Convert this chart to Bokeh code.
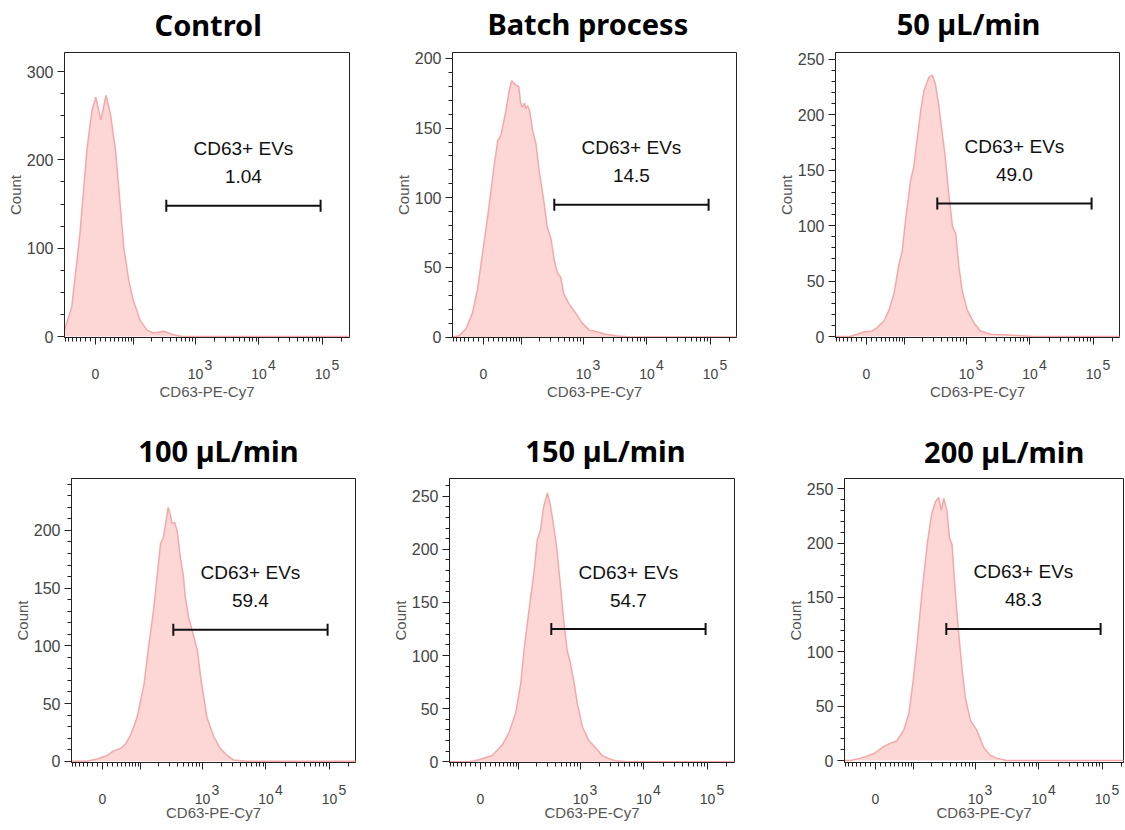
import math
from bokeh.plotting import figure
from bokeh.models import Range1d, FixedTicker, SingleIntervalTicker, LinearAxis
from bokeh.layouts import column, row
from bokeh.embed import file_html
from bokeh.resources import INLINE
from bokeh.core.properties import value

# ---------------- data ----------------
titles = ["Control", "Batch process", "50 \u00b5L/min", "100 \u00b5L/min", "150 \u00b5L/min", "200 \u00b5L/min"]
gate_pct = ["1.04", "14.5", "49.0", "59.4", "54.7", "48.3"]
gate_text = "CD63+ EVs"
gate_lo = 2.54          # gate start, display units (logicle-like scale: 10^3 -> 3)
gate_hi = 4.97          # gate end
gate_count = [148, 95, 120, 114, 125, 121]
y_tick_step = [100, 50, 50, 50, 50, 50]
y_lims = [(-1.1, 321.6), (-0.3, 204.3), (-0.9, 256.3), (-1.1, 245.0), (-0.6, 266.6), (-1.8, 259.4)]
x_label = "CD63-PE-Cy7"
y_label = "Count"
x_major_values = [0, 100, 1e3, 1e4, 1e5]
x_major_labels = ["0", "", "10", "10", "10"]
x_exp_values = [1e3, 1e4, 1e5]
x_exp_labels = ["3", "4", "5"]
x_minor_values = [-70, -60, -50, -40, -30, -20, -10, 10, 20, 30, 40, 50, 60, 70, 80, 90,
                  200, 300, 400, 500, 600, 700, 800, 900,
                  2e3, 3e3, 4e3, 5e3, 6e3, 7e3, 8e3, 9e3,
                  2e4, 3e4, 4e4, 5e4, 6e4, 7e4, 8e4, 9e4, 2e5]

# histograms: x in display units, y = event count
control_x = [0.94, 1.05, 1.18, 1.29, 1.37, 1.43, 1.51, 1.59, 1.66, 1.74, 1.79, 1.87, 1.95, 2.02,
             2.13, 2.24, 2.34, 2.50, 2.65, 2.79, 5.43]
control_y = [8, 33, 116, 211, 256, 271, 245, 273, 252, 211, 169, 101, 63, 41, 18, 7, 4, 6, 2, 0, 0]

batch_x = [0.94, 1.04, 1.15, 1.25, 1.33, 1.41, 1.51, 1.59, 1.65, 1.70, 1.78, 1.83, 1.87, 1.93, 1.98,
           2.01, 2.04, 2.07, 2.09, 2.12, 2.15, 2.20, 2.25, 2.30, 2.38, 2.43, 2.49, 2.54, 2.59, 2.64,
           2.69, 2.77, 2.88, 2.98, 3.09, 3.19, 3.35, 3.51, 3.72, 5.43]
batch_y = [0, 1, 6, 17, 34, 60, 93, 122, 141, 145, 163, 177, 184, 181, 180, 168, 165, 168, 164, 166,
           163, 148, 139, 120, 96, 79, 70, 55, 46, 43, 31, 24, 17, 10, 5, 4, 2, 1, 0, 0]

f50_x = [0.94, 1.17, 1.28, 1.38, 1.52, 1.59, 1.70, 1.78, 1.86, 1.93, 1.99, 2.04, 2.12, 2.17, 2.22,
         2.28, 2.33, 2.41, 2.46, 2.51, 2.56, 2.62, 2.67, 2.72, 2.78, 2.83, 2.88, 2.93, 3.01, 3.12,
         3.22, 3.38, 3.59, 3.80, 4.06, 5.43]
f50_y = [0, 0, 2, 4, 5, 8, 14, 24, 39, 63, 78, 105, 141, 153, 177, 204, 222, 234, 236, 228, 210, 183,
         159, 129, 99, 93, 63, 42, 24, 12, 5, 2, 1.5, 1, 0, 0]

f100_x = [0.94, 1.18, 1.34, 1.50, 1.60, 1.71, 1.79, 1.87, 1.97, 2.08, 2.15, 2.23, 2.29, 2.34, 2.38,
          2.42, 2.46, 2.50, 2.52, 2.56, 2.60, 2.65, 2.70, 2.73, 2.78, 2.84, 2.92, 2.97, 3.07, 3.18,
          3.28, 3.39, 3.49, 3.70, 5.43]
f100_y = [0, 0, 2, 5, 9, 11, 15, 23, 38, 67, 99, 131, 163, 189, 193, 206, 220, 212, 206, 207, 200, 177,
          160, 142, 125, 113, 96, 73, 38, 21, 11, 5, 1, 0, 0]

f150_x = [0.94, 1.24, 1.40, 1.61, 1.77, 1.87, 1.98, 2.06, 2.11, 2.19, 2.27, 2.32, 2.37, 2.42, 2.48,
          2.53, 2.58, 2.63, 2.69, 2.74, 2.79, 2.84, 2.90, 2.95, 3.03, 3.13, 3.24, 3.34, 3.45, 3.55,
          3.76, 5.43]
f150_y = [0, 0, 2, 6, 16, 27, 46, 74, 105, 143, 180, 209, 218, 240, 253, 240, 221, 199, 162, 130, 105,
          93, 74, 55, 33, 20, 13, 6, 3, 1, 0, 0]

f200_x = [0.94, 1.03, 1.18, 1.29, 1.42, 1.53, 1.66, 1.76, 1.87, 1.95, 2.02, 2.08, 2.16, 2.24, 2.31,
          2.37, 2.42, 2.46, 2.50, 2.55, 2.59, 2.63, 2.68, 2.73, 2.79, 2.84, 2.92, 3.02, 3.13, 3.23,
          3.34, 3.49, 5.43]
f200_y = [0, 0, 2, 4, 7, 12, 16, 18, 28, 43, 74, 107, 156, 199, 227, 238, 242, 230, 241, 230, 205, 199,
          156, 120, 83, 58, 37, 28, 12, 5, 2, 0, 0]

hist_x = [control_x, batch_x, f50_x, f100_x, f150_x, f200_x]
hist_y = [control_y, batch_y, f50_y, f100_y, f150_y, f200_y]

# ---------------- layout / style ----------------
X_START = 0.937
PPD = 63.5            # pixels per display unit (decade)
ZERO_POS = 1.425      # display position of value 0
LN10 = math.log(10)
B = 1000.0 / math.sinh((3.0 - ZERO_POS) * LN10)


def disp(v):
    return ZERO_POS + math.asinh(v / B) / LN10


# frame width/height, borders (left, right, top, bottom), title centre (px from frame left),
# title standoff, x-axis-title standoff
panels = [
    dict(fw=285, fh=285, bl=64, br=31, bt=52, bb=81, tx=143.7, ts=9, ls=1),
    dict(fw=284, fh=285, bl=72, br=32, bt=52, bb=81, tx=135.3, ts=10, ls=1),
    dict(fw=284, fh=285, bl=67, br=5, bt=52, bb=81, tx=133.0, ts=10, ls=1),
    dict(fw=284, fh=284, bl=71, br=20, bt=60, bb=64, tx=147.0, ts=9, ls=-3),
    dict(fw=285, fh=284, bl=74, br=34, bt=60, bb=64, tx=156.0, ts=9, ls=-3),
    dict(fw=279, fh=284, bl=76, br=1, bt=60, bb=64, tx=159.7, ts=8, ls=-3),
]

FILL = "#fdd6d6"
EDGE = "#f5a8a8"
INK = "#222222"
GREY = "#444444"
FONT = "Liberation Sans"
SUP_SHIFT = 13        # px to the right of the decade tick

major_pos = [round(disp(v), 6) for v in x_major_values]
minor_pos = [round(disp(v), 6) for v in x_minor_values]


def bare_axis(ticks, labels, font_size, standoff, bold=False, color=GREY, font=FONT):
    ax = LinearAxis(ticker=FixedTicker(ticks=ticks, minor_ticks=[]),
                    major_label_overrides={t: s for t, s in zip(ticks, labels)})
    ax.axis_line_color = None
    ax.major_tick_line_color = None
    ax.minor_tick_line_color = None
    ax.major_tick_out = 0
    ax.major_tick_in = 0
    ax.minor_tick_out = 0
    ax.minor_tick_in = 0
    ax.major_label_standoff = standoff
    ax.major_label_text_font = font
    ax.major_label_text_font_size = font_size
    ax.major_label_text_color = color
    if bold:
        ax.major_label_text_font_style = "bold"
    return ax


def make_panel(i):
    L = panels[i]
    x0 = X_START
    x1 = X_START + L["fw"] / PPD
    y0, y1 = y_lims[i]
    ppu = L["fh"] / (y1 - y0)
    p = figure(frame_width=L["fw"], frame_height=L["fh"],
               min_border_left=L["bl"], min_border_right=L["br"],
               min_border_top=L["bt"], min_border_bottom=L["bb"],
               x_range=Range1d(x0, x1), y_range=Range1d(y0, y1),
               output_backend="svg", toolbar_location=None,
               background_fill_color="white", border_fill_color="white")
    p.grid.visible = False
    p.outline_line_color = INK
    p.outline_line_width = 1

    # histogram
    p.varea(x=hist_x[i], y1=0, y2=hist_y[i], fill_color=FILL, fill_alpha=1.0)
    p.line(x=hist_x[i], y=hist_y[i], line_color=EDGE, line_width=1.5)

    # gate
    gy = gate_count[i]
    p.segment(x0=[gate_lo], y0=[gy], x1=[gate_hi], y1=[gy], line_color="#111111", line_width=2)
    p.scatter(x=[gate_lo, gate_hi], y=[gy, gy], marker="dash", size=12, angle=math.pi / 2,
              line_color="#111111", line_width=2)
    gmid = (gate_lo + gate_hi) / 2
    p.text(x=[gmid, gmid], y=[gy + 57 / ppu, gy + 29 / ppu], text=[gate_text, gate_pct[i]],
           text_align="center", text_baseline="middle", text_font=value(FONT),
           text_font_size="19px", text_color="#111111")

    # x axis: ticks only (adjacent to frame)
    xa = p.xaxis[0]
    xa.ticker = FixedTicker(ticks=major_pos, minor_ticks=minor_pos)
    xa.major_label_overrides = {t: "" for t in major_pos}
    xa.major_label_text_font_size = "0px"
    xa.major_label_standoff = 0
    xa.major_tick_out = 7
    xa.major_tick_in = 0
    xa.minor_tick_out = 4
    xa.minor_tick_in = 0
    xa.axis_line_color = INK
    xa.major_tick_line_color = INK
    xa.minor_tick_line_color = INK

    # exponents row, then mantissa row with the axis title
    sup_pos = [round(disp(v) + SUP_SHIFT / PPD, 6) for v in x_exp_values]
    p.add_layout(bare_axis(sup_pos, x_exp_labels, "14px", 15), "below")
    lab_ax = bare_axis(major_pos, x_major_labels, "14px", -4)
    lab_ax.axis_label = x_label
    lab_ax.axis_label_text_font = FONT
    lab_ax.axis_label_text_font_size = "15px"
    lab_ax.axis_label_text_font_style = "normal"
    lab_ax.axis_label_text_color = "#555555"
    lab_ax.axis_label_standoff = L["ls"]
    p.add_layout(lab_ax, "below")

    # y axis
    ya = p.yaxis[0]
    ya.ticker = SingleIntervalTicker(interval=y_tick_step[i],
                                     num_minor_ticks=4 if y_tick_step[i] == 100 else 5)
    ya.axis_label = y_label
    ya.axis_label_text_font = FONT
    ya.axis_label_text_font_size = "15px"
    ya.axis_label_text_font_style = "normal"
    ya.axis_label_text_color = "#555555"
    ya.axis_label_standoff = 0
    ya.major_label_text_font = FONT
    ya.major_label_text_font_size = "16px"
    ya.major_label_text_color = GREY
    ya.major_label_standoff = 4
    ya.major_tick_out = 7
    ya.major_tick_in = 0
    ya.minor_tick_out = 4
    ya.minor_tick_in = 0
    ya.axis_line_color = INK
    ya.major_tick_line_color = INK
    ya.minor_tick_line_color = INK

    # panel title, carried by an unlined axis above the frame
    tpos = round(x0 + L["tx"] / PPD, 6)
    p.add_layout(bare_axis([tpos], [titles[i]], "29px", L["ts"], bold=True,
                           color="black", font="Noto Sans"), "above")
    return p


figs = [make_panel(i) for i in range(6)]
layout = column(row(figs[0], figs[1], figs[2]), row(figs[3], figs[4], figs[5]))

open("out.html", "w").write(file_html(layout, INLINE))
